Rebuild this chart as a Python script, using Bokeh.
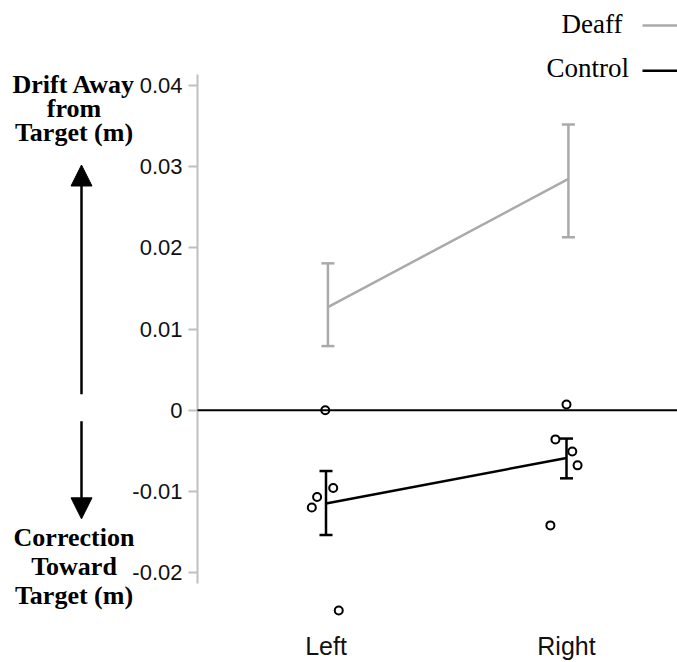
from bokeh.plotting import figure
from bokeh.models import (Range1d, FixedTicker, Label, Arrow, NormalHead,
                          Whisker, TeeHead, ColumnDataSource)
from bokeh.embed import file_html
from bokeh.resources import INLINE

# ---------------- data ----------------
categories = ["Left", "Right"]
cat_x = [1.0, 2.0]

deaf_mean = [0.0127, 0.0285]
deaf_upper = [0.0181, 0.0352]
deaf_lower = [0.0079, 0.0213]

control_mean = [-0.0115, -0.0059]
control_upper = [-0.0075, -0.0035]
control_lower = [-0.0154, -0.0084]

control_left_pts = [0.0000, -0.0096, -0.0107, -0.0120, -0.0247]
control_left_jitter = [-0.003, 0.030, -0.037, -0.059, 0.053]
control_right_pts = [0.0007, -0.0036, -0.0051, -0.0068, -0.0142]
control_right_jitter = [0.0, -0.046, 0.024, 0.046, -0.067]

y_ticks = [-0.02, -0.01, 0.0, 0.01, 0.02, 0.03, 0.04]
y_tick_labels = ["-0.02", "-0.01", "0", "0.01", "0.02", "0.03", "0.04"]

legend_names = ["Deaff", "Control"]
side_upper = ["Drift Away", "from", "Target (m)"]
side_lower = ["Correction", "Toward", "Target (m)"]

# ---------------- style ----------------
DEAF_COLOR = "#aaaaaa"
CTRL_COLOR = "#000000"
AXIS_COLOR = "#c0c0c0"
DEAF_DODGE = 0.008
W, H = 677, 662
TOP_B, BOT_B = 10, 44
BASE_FIX = 8  # label baseline correction (px)

# image-pixel helpers (px -> data) for annotation placement
def dx(px):
    return 1 + (px - 325.5) / 240.5

def dy(py):
    return (411 - py) / 8140.0

p = figure(width=W, height=H, output_backend="svg", toolbar_location=None,
           x_range=Range1d(dx(0), dx(W)), y_range=Range1d(dy(H - BOT_B), dy(TOP_B)),
           min_border_left=0, min_border_right=0, min_border_top=TOP_B,
           min_border_bottom=BOT_B)
p.outline_line_color = None
p.xgrid.visible = False
p.ygrid.visible = False
p.background_fill_color = "white"
p.border_fill_color = "white"

# y axis (fixed inside the frame so the side captions can sit to its left)
ya = p.yaxis[0]
ya.fixed_location = dx(197)
ya.ticker = FixedTicker(ticks=y_ticks)
ya.major_label_overrides = {float(v): s for v, s in zip(y_ticks, y_tick_labels)}
ya.bounds = (dy(585), dy(74))
ya.axis_line_color = AXIS_COLOR
ya.axis_line_width = 2
ya.major_tick_line_color = AXIS_COLOR
ya.major_tick_line_width = 2
ya.major_tick_out = 9
ya.major_tick_in = 0
ya.minor_tick_line_color = None
ya.major_label_standoff = 6
ya.major_label_text_font = "Liberation Sans"
ya.major_label_text_font_size = "22px"
ya.major_label_text_color = "#111111"

# x axis
xa = p.xaxis[0]
xa.ticker = FixedTicker(ticks=cat_x)
xa.major_label_overrides = {float(v): s for v, s in zip(cat_x, categories)}
xa.axis_line_color = None
xa.major_tick_line_color = None
xa.minor_tick_line_color = None
xa.major_tick_out = 0
xa.major_tick_in = 0
xa.major_label_standoff = 15
xa.major_label_text_font = "Liberation Sans"
xa.major_label_text_font_size = "25px"
xa.major_label_text_color = "#111111"

# zero line (from the axis to the right edge)
p.add_layout(Arrow(start=None, end=None, x_start=dx(197), y_start=0, x_end=dx(W),
                   y_end=0, line_color="black", line_width=2))

# deaf
deaf_x = [x + DEAF_DODGE for x in cat_x]
deaf_src = ColumnDataSource(dict(x=deaf_x, m=deaf_mean, upper=deaf_upper, lower=deaf_lower))
p.line("x", "m", source=deaf_src, line_color=DEAF_COLOR, line_width=2.5)
p.add_layout(Whisker(source=deaf_src, base="x", upper="upper", lower="lower",
                     dimension="height", line_color=DEAF_COLOR, line_width=2.5,
                     upper_head=TeeHead(size=13, line_color=DEAF_COLOR, line_width=2.5),
                     lower_head=TeeHead(size=13, line_color=DEAF_COLOR, line_width=2.5)))

# control
ctrl_src = ColumnDataSource(dict(x=cat_x, m=control_mean, upper=control_upper, lower=control_lower))
p.line("x", "m", source=ctrl_src, line_color=CTRL_COLOR, line_width=2.5)
p.add_layout(Whisker(source=ctrl_src, base="x", upper="upper", lower="lower",
                     dimension="height", line_color=CTRL_COLOR, line_width=2.5,
                     upper_head=TeeHead(size=13, line_color=CTRL_COLOR, line_width=2.5),
                     lower_head=TeeHead(size=13, line_color=CTRL_COLOR, line_width=2.5)))

pts_x = [cat_x[0] + j for j in control_left_jitter] + [cat_x[1] + j for j in control_right_jitter]
pts_y = control_left_pts + control_right_pts
p.scatter(pts_x, pts_y, marker="circle", size=8, fill_color="white",
          line_color="black", line_width=2)

# legend (label left, line sample right)
for name, color, tx, base, py in [(legend_names[0], DEAF_COLOR, 622, 31.7, 25),
                                  (legend_names[1], CTRL_COLOR, 628.5, 76, 70.5)]:
    p.add_layout(Label(x=dx(tx), y=dy(base - BASE_FIX), text=name, text_align="right",
                       text_baseline="alphabetic", text_font="Liberation Serif",
                       text_font_size="27px", text_color="black"))
    p.add_layout(Arrow(start=None, end=None, x_start=dx(642), y_start=dy(py),
                       x_end=dx(W + 5), y_end=dy(py), line_color=color, line_width=2.5))

# side captions and direction arrows
for txt, py in zip(side_upper + side_lower, [93, 117, 141, 548, 577, 606]):
    p.add_layout(Label(x=dx(73.5), y=dy(py - BASE_FIX - 1), text=txt, text_align="center",
                       text_baseline="alphabetic", text_font="Liberation Serif",
                       text_font_style="bold", text_font_size="26px", text_color="black"))

p.add_layout(Arrow(end=NormalHead(size=21, fill_color="black", line_color="black"),
                   x_start=dx(81), y_start=dy(395), x_end=dx(81), y_end=dy(165),
                   line_color="black", line_width=2.5))
p.add_layout(Arrow(end=NormalHead(size=21, fill_color="black", line_color="black"),
                   x_start=dx(81), y_start=dy(422), x_end=dx(81), y_end=dy(520),
                   line_color="black", line_width=2.5))

open("out.html", "w").write(file_html(p, INLINE))
